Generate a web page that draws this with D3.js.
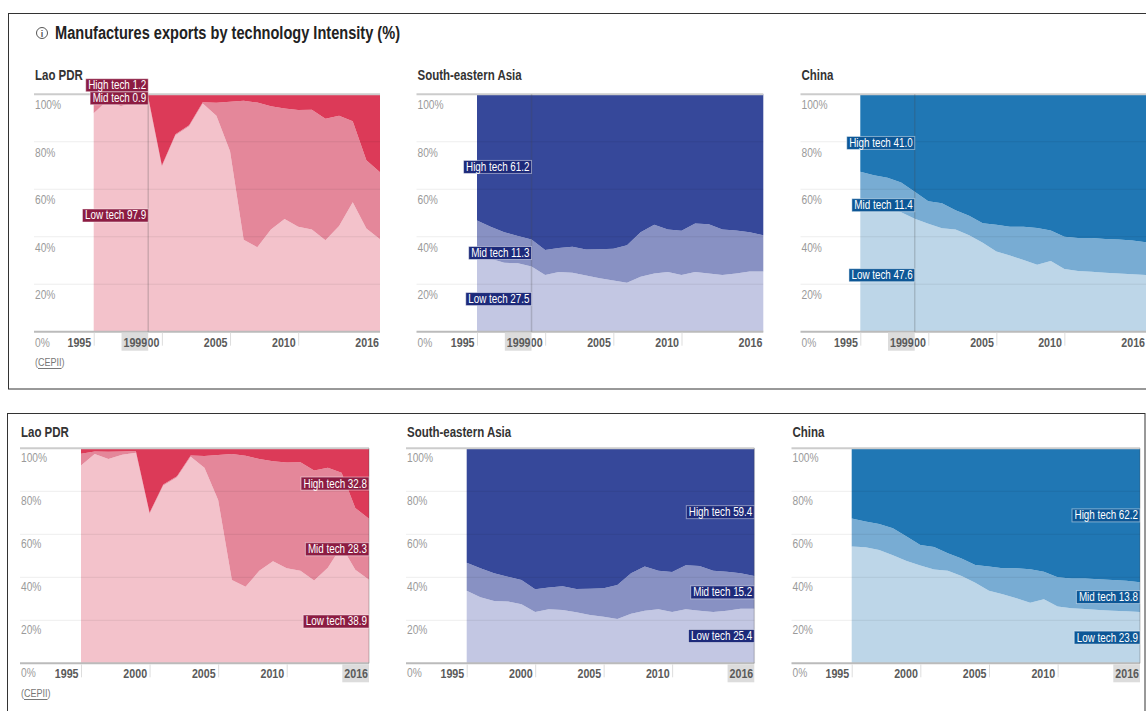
<!DOCTYPE html>
<html>
<head>
<meta charset="utf-8">
<script src="https://cdn.jsdelivr.net/npm/d3@7/dist/d3.min.js"></script>
<style>
  body { margin: 0; background: #fff; }
  svg text { font-family: "Liberation Sans", Arial, sans-serif; }
</style>
</head>
<body>
<svg id="chart" width="1146" height="711"></svg>
<script>
const years = [1995, 1996, 1997, 1998, 1999, 2000, 2001, 2002, 2003, 2004, 2005,
  2006, 2007, 2008, 2009, 2010, 2011, 2012, 2013, 2014, 2015, 2016];
const xTicks = [1995, 2000, 2005, 2010, 2016];
const yTicks = [0, 20, 40, 60, 80, 100];
const keys = ["low", "mid", "high"];
const keyNames = ["Low tech", "Mid tech", "High tech"];

// Lao PDR (%)
const laoLow = [92.0, 97.4, 95.0, 97.0, 97.9, 69.5, 82.7, 86.5, 96.1, 91.0, 76.0,
  38.7, 35.6, 43.0, 47.5, 44.2, 43.0, 38.5, 44.5, 54.5, 43.5, 38.9];
const laoMid = [5.5, 1.1, 3.4, 1.5, 0.9, 0.5, 0.5, 0.5, 0.6, 5.4, 20.9,
  58.6, 60.9, 52.0, 46.5, 49.2, 50.5, 51.2, 46.5, 34.1, 28.7, 28.3];
const laoHigh = [2.5, 1.5, 1.6, 1.5, 1.2, 30.0, 16.8, 13.0, 3.3, 3.6, 3.1,
  2.7, 3.5, 5.0, 6.0, 6.6, 6.5, 10.3, 9.0, 11.4, 27.8, 32.8];

// South-eastern Asia (%)
const seaLow = [33.8, 30.7, 29.0, 28.8, 27.5, 23.9, 25.1, 24.8, 23.7, 22.5, 21.6,
  20.6, 23.1, 24.5, 25.1, 23.9, 25.1, 24.5, 23.9, 24.5, 25.4, 25.4];
const seaMid = [13.0, 13.5, 12.9, 11.5, 11.3, 10.5, 10.2, 11.0, 10.9, 12.2, 13.3,
  15.8, 18.8, 20.5, 18.0, 18.6, 20.5, 20.8, 19.2, 18.1, 16.5, 15.2];
const seaHigh = [53.2, 55.8, 58.1, 59.7, 61.2, 65.6, 64.7, 64.2, 65.4, 65.3, 65.1,
  63.6, 58.1, 55.0, 56.9, 57.5, 54.4, 54.7, 56.9, 57.4, 58.1, 59.4];

// China (%)
const chnLow = [54.3, 54.0, 52.7, 50.3, 47.6, 45.5, 43.6, 43.1, 40.6, 37.5, 33.8,
  32.1, 30.2, 28.2, 29.8, 26.4, 25.6, 25.3, 24.8, 24.5, 24.2, 23.9];
const chnMid = [13.1, 11.9, 12.1, 12.5, 11.4, 9.5, 10.5, 8.1, 8.2, 8.2, 11.2,
  12.1, 14.0, 15.5, 12.8, 13.6, 13.9, 14.2, 14.3, 14.3, 14.2, 13.8];
const chnHigh = [32.6, 34.1, 35.2, 37.2, 41.0, 45.0, 45.9, 48.8, 51.2, 54.3, 55.0,
  55.8, 55.8, 56.3, 57.4, 60.0, 60.5, 60.5, 60.9, 61.2, 61.6, 62.2];

const regions = [
  { name: "Lao PDR", low: laoLow, mid: laoMid, high: laoHigh,
    colors: ["#f3c2cb", "#e4879a", "#dc3a58"], labelFill: "#8c1c42", source: true },
  { name: "South-eastern Asia", low: seaLow, mid: seaMid, high: seaHigh,
    colors: ["#c3c7e3", "#8891c3", "#36489a"], labelFill: "#1d2a7a" },
  { name: "China", low: chnLow, mid: chnMid, high: chnHigh,
    colors: ["#bdd6e8", "#78acd3", "#2077b4"], labelFill: "#0d5796" }
];

// two copies of the same view: hovered on 1999 and on 2016
const panels = [
  { box: [8.5, 13.5, 1200, 375.5], hover: 1999, yTop: 94.3, yBase: 331.7, titleY: 75,
    x0: [34, 416.5, 800.5], xs: [93.7, 477, 860.3], xe: [380, 763.3, 1146], yLabelDy: 15, sourceY: 362 },
  { box: [7.5, 413.5, 1137.5, 400], hover: 2016, yTop: 448.3, yBase: 663.3, titleY: 432,
    x0: [20, 406, 791.5], xs: [81, 466.7, 851.7], xe: [369, 754.3, 1140], yLabelDy: 13.5, sourceY: 693 }
];

const svg = d3.select("#chart");

// the reference uses a condensed face: squeeze the glyphs horizontally
function narrow(sel, f = 0.82) {
  sel.each(function () {
    const w = this.getComputedTextLength();
    d3.select(this).attr("textLength", w * f).attr("lengthAdjust", "spacingAndGlyphs");
  });
  return sel;
}

panels.forEach(p => {
  svg.append("rect")
    .attr("x", p.box[0]).attr("y", p.box[1])
    .attr("width", p.box[2]).attr("height", p.box[3])
    .attr("fill", "none").attr("stroke", "#333").attr("stroke-width", 1);
});

// main title
const head = svg.append("g");
head.append("circle").attr("cx", 42).attr("cy", 33).attr("r", 5.5)
  .attr("fill", "none").attr("stroke", "#555").attr("stroke-width", 1);
head.append("text").attr("x", 42).attr("y", 36.5).attr("text-anchor", "middle")
  .attr("font-size", 9).attr("font-weight", "bold").attr("fill", "#555").text("i");
head.append("text").attr("x", 55).attr("y", 39)
  .attr("font-size", 18).attr("font-weight", "bold").attr("fill", "#222")
  .attr("textLength", 345).attr("lengthAdjust", "spacingAndGlyphs")
  .text("Manufactures exports by technology Intensity (%)");

function drawChart(p, region, i) {
  const x0 = p.x0[i], xe = p.xe[i];
  const x = d3.scaleLinear().domain([1995, 2016]).range([p.xs[i], xe]);
  const y = d3.scaleLinear().domain([0, 100]).range([p.yBase, p.yTop]);
  const g = svg.append("g");

  narrow(g.append("text")
    .attr("x", x0 + 1).attr("y", p.titleY + 5)
    .attr("font-size", 14).attr("font-weight", "bold").attr("fill", "#333")
    .text(region.name));

  const rows = years.map((yr, k) => ({ year: yr, low: region.low[k], mid: region.mid[k], high: region.high[k] }));
  const layers = d3.stack().keys(keys)(rows);
  const area = d3.area()
    .x(d => x(d.data.year))
    .y0(d => y(d[0]))
    .y1(d => y(d[1]));

  g.selectAll("path.layer").data(layers).join("path")
    .attr("class", "layer")
    .attr("d", area)
    .attr("fill", (d, k) => region.colors[k]);

  // grid on top of the areas
  g.selectAll("line.grid").data(yTicks).join("line")
    .attr("class", "grid")
    .attr("x1", x0).attr("x2", xe)
    .attr("y1", d => y(d)).attr("y2", d => y(d))
    .attr("stroke", d => d === 0 ? "#bbb" : d === 100 ? "#ccc" : "rgba(0,0,0,0.07)")
    .attr("stroke-width", d => (d === 0 || d === 100) ? 2 : 1);

  narrow(g.selectAll("text.ylab").data(yTicks).join("text")
    .attr("class", "ylab")
    .attr("x", x0 + 1).attr("y", d => y(d) + p.yLabelDy)
    .attr("font-size", 12).attr("fill", "#9a9a9a")
    .text(d => d + "%"), 0.85);

  const axis = d3.axisBottom(x).tickValues(xTicks).tickSize(14).tickFormat(d3.format("d"));
  const axg = g.append("g").attr("transform", `translate(0,${p.yBase})`).call(axis);
  axg.attr("font-family", null).attr("font-size", null);
  axg.select(".domain").remove();
  axg.selectAll(".tick line").attr("stroke", "#ddd").attr("y1", 1)
    .attr("opacity", d => d === 2016 ? 0 : 1);
  narrow(axg.selectAll(".tick text")
    .attr("x", d => d === 2016 ? -1.5 : -3).attr("y", 15).attr("dy", 0)
    .attr("text-anchor", "end")
    .attr("font-size", 13).attr("font-weight", "bold").attr("fill", "#5a5a5a"));

  // hover marker
  const hi = years.indexOf(p.hover);
  const hx = x(p.hover);
  g.append("line")
    .attr("x1", hx).attr("x2", hx).attr("y1", p.yTop).attr("y2", p.yBase)
    .attr("stroke", "rgba(70,70,70,0.22)").attr("stroke-width", 1.5);

  const hg = g.append("g").attr("transform", `translate(0,${p.yBase})`);
  const hRect = hg.append("rect").attr("fill", "#dcdcdc");
  const hText = narrow(hg.append("text")
    .attr("x", hx - 1).attr("y", 15).attr("text-anchor", "end")
    .attr("font-size", 13).attr("font-weight", "bold").attr("fill", "#5a5a5a")
    .text(p.hover));
  const hb = hText.node().getBBox();
  hRect.attr("x", hb.x - 2).attr("y", 1).attr("width", hx - hb.x + 2).attr("height", 18);

  // value labels, pushed apart from the bottom up
  const boxH = 13;
  const labels = layers.map((L, k) => ({
    k, text: keyNames[k] + " " + d3.format(".1f")(region[keys[k]][hi]),
    yc: y((L[hi][0] + L[hi][1]) / 2)
  }));
  for (let k = 1; k < labels.length; k++) {
    labels[k].yc = Math.min(labels[k].yc, labels[k - 1].yc - boxH);
  }
  const lg = g.selectAll("g.vlab").data(labels).join("g").attr("class", "vlab");
  lg.each(function (d) {
    const sel = d3.select(this);
    const r = sel.append("rect").attr("fill", region.labelFill)
      .attr("stroke", "rgba(255,255,255,0.45)").attr("stroke-width", 1);
    const t = narrow(sel.append("text")
      .attr("x", hx - 2).attr("y", d.yc + 4).attr("text-anchor", "end")
      .attr("font-size", 12).attr("fill", "#fff").text(d.text));
    const b = t.node().getBBox();
    r.attr("x", b.x - 2.5).attr("y", d.yc - boxH / 2)
      .attr("width", hx - b.x + 2.5).attr("height", boxH);
  });

  if (region.source) {
    const s = narrow(g.append("text").attr("x", x0 + 1).attr("y", p.sourceY + 4)
      .attr("font-size", 11).attr("fill", "#777").text("(CEPII)"));
    const sb = s.node().getBBox();
    g.append("line")
      .attr("x1", sb.x + 3).attr("x2", sb.x + sb.width - 3)
      .attr("y1", p.sourceY + 6.5).attr("y2", p.sourceY + 6.5)
      .attr("stroke", "#777").attr("stroke-width", 1);
  }
}

panels.forEach(p => regions.forEach((r, i) => drawChart(p, r, i)));
</script>
</body>
</html>
